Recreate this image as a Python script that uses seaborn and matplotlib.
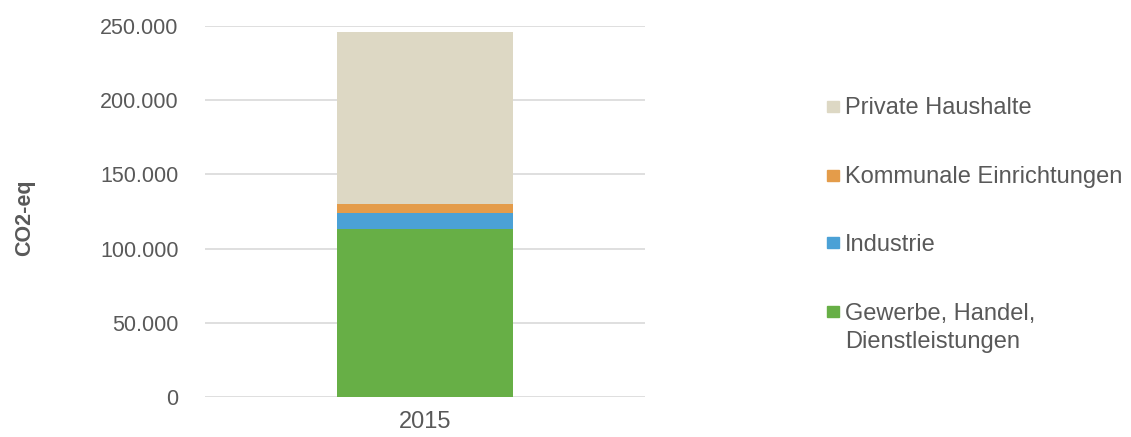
import matplotlib
matplotlib.use("Agg")
import matplotlib.pyplot as plt
from matplotlib.patches import Rectangle
from matplotlib.ticker import FuncFormatter
import seaborn as sns
import pandas as pd

# data
years = ["2015"]
sectors = ["Gewerbe, Handel,\nDienstleistungen", "Industrie",
           "Kommunale Einrichtungen", "Private Haushalte"]
gewerbe = [113300]
industrie = [10800]
kommunal = [6100]
private = [115800]
colors = ["#67AF46", "#4BA1D6", "#E49C4A", "#DDD8C4"]

sns.set_theme(style="white")
plt.rcParams["font.family"] = ["Liberation Sans", "DejaVu Sans"]
grey = "#595959"

df = pd.DataFrame({"year": years, "g": gewerbe, "i": industrie,
                   "k": kommunal, "p": private})
cum = df[["g", "i", "k", "p"]].cumsum(axis=1)

fig = plt.figure(figsize=(11.31, 4.37), dpi=100)
ax = fig.add_axes([205 / 1131, 1 - 397 / 437, 440 / 1131, 371 / 437])

# stacked: draw tallest first
for col, c in zip(["p", "k", "i", "g"], colors[::-1]):
    sns.barplot(x=df["year"], y=cum[col], color=c, width=0.4,
                saturation=1, linewidth=0, ax=ax, zorder=3)

ax.set_ylim(0, 250000)
ax.set_yticks(range(0, 250001, 50000))
ax.yaxis.set_major_formatter(FuncFormatter(lambda v, p: f"{int(v):,}".replace(",", ".")))
ax.grid(axis="y", color="#D9D9D9", linewidth=1.2, zorder=0)
for s in ax.spines.values():
    s.set_visible(False)
ax.tick_params(axis="y", length=0, pad=19, labelsize=15.5, labelcolor=grey)
ax.tick_params(axis="x", length=0, pad=10, labelsize=17, labelcolor=grey)
ax.set_xlabel("")
ax.set_ylabel("")

fig.text(25 / 1131, 1 - 218 / 437, "CO2-eq", rotation=90, ha="center", va="center",
         fontsize=15.5, fontweight="bold", color=grey)

# legend (top to bottom)
legend_rows = [("Private Haushalte", colors[3], 101, 114),
               ("Kommunale Einrichtungen", colors[2], 170, 183),
               ("Industrie", colors[1], 237, 251),
               (sectors[0], colors[0], 306, 320)]
for label, c, sq_top, base in legend_rows:
    fig.add_artist(Rectangle((827 / 1131, 1 - (sq_top + 11) / 437), 12 / 1131, 11 / 437,
                             transform=fig.transFigure, color=c))
    lines = label.split("\n")
    for j, line in enumerate(lines):
        fig.text(845 / 1131, 1 - (base + j * 28.3) / 437, line, ha="left", va="baseline",
                 fontsize=17, color=grey)

fig.savefig("out.png", dpi=100)
